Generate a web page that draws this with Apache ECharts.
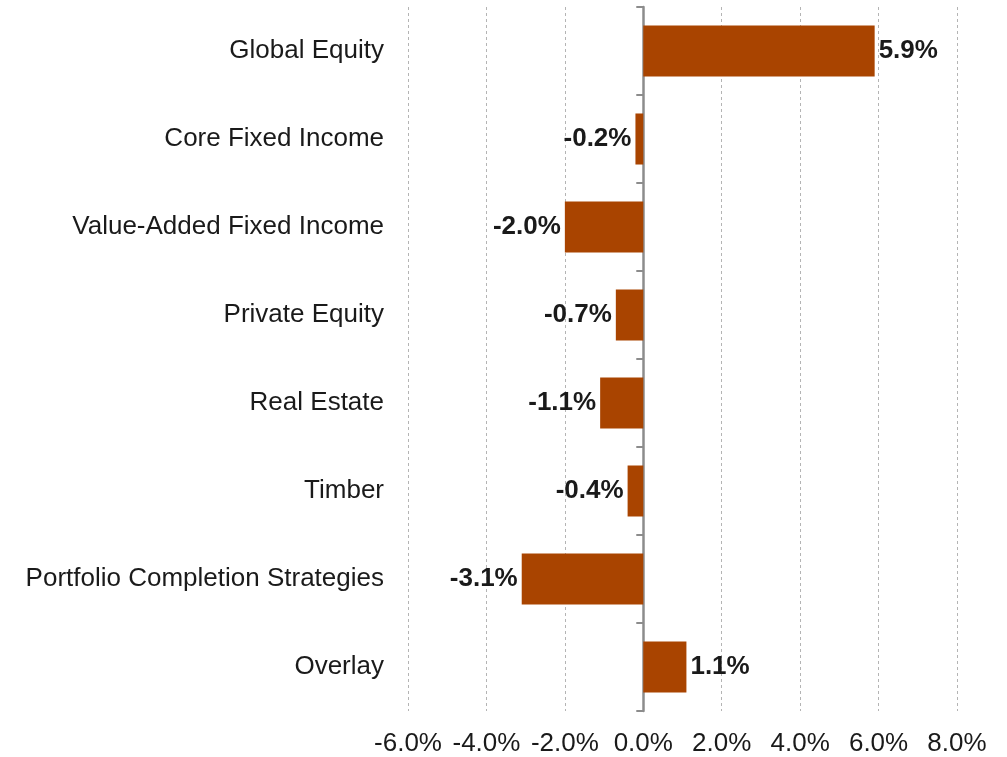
<!DOCTYPE html>
<html>
<head>
<meta charset="utf-8">
<script src="https://cdn.jsdelivr.net/npm/echarts@6/dist/echarts.min.js"></script>
<style>
  html, body { margin: 0; padding: 0; background: #fff; }
  #chart { width: 1007px; height: 757px; }
</style>
</head>
<body>
<div id="chart"></div>
<script>
var categories = ['Global Equity', 'Core Fixed Income', 'Value-Added Fixed Income', 'Private Equity',
    'Real Estate', 'Timber', 'Portfolio Completion Strategies', 'Overlay'];
var values = [5.9, -0.2, -2.0, -0.7, -1.1, -0.4, -3.1, 1.1];
var xTicks = [-6, 8, 2]; // min, max, step

var font = "'Liberation Sans', Arial, sans-serif";

var barData = [];
for (var i = 0; i < values.length; i++) {
    barData.push({
        value: values[i],
        label: { position: values[i] >= 0 ? 'right' : 'left' }
    });
}

var chart = echarts.init(document.getElementById('chart'));
chart.setOption({
    animation: false,
    grid: {
        left: 408,
        right: 50,
        top: 7,
        bottom: 45
    },
    xAxis: {
        type: 'value',
        min: xTicks[0],
        max: xTicks[1],
        interval: xTicks[2],
        axisLine: { show: false },
        axisTick: { show: false },
        axisLabel: {
            fontFamily: font,
            fontSize: 26,
            color: '#1a1a1a',
            margin: 20,
            formatter: function (v) { return v.toFixed(1) + '%'; }
        },
        splitLine: {
            show: true,
            lineStyle: { color: '#b4b4b4', type: [3, 3], width: 1 }
        }
    },
    yAxis: [
        {
            type: 'category',
            inverse: true,
            data: categories,
            axisLine: { show: false, onZero: false },
            axisTick: { show: false },
            axisLabel: {
                fontFamily: font,
                fontSize: 26,
                color: '#1a1a1a',
                margin: 24
            }
        },
        {
            // zero line with the category boundary ticks
            type: 'category',
            inverse: true,
            position: 'left',
            data: categories,
            axisLine: { show: true, onZero: true, onZeroAxisIndex: 0, lineStyle: { color: '#8c8c8c', width: 2.5 } },
            axisTick: { show: true, length: 7, lineStyle: { color: '#8c8c8c', width: 2 } },
            axisLabel: { show: false }
        }
    ],
    series: [
        {
            type: 'bar',
            yAxisIndex: 0,
            data: barData,
            barCategoryGap: '42%',
            itemStyle: { color: '#a94400' },
            label: {
                show: true,
                fontFamily: font,
                fontWeight: 'bold',
                fontSize: 26,
                color: '#1a1a1a',
                distance: 4,
                formatter: function (p) { return p.value.toFixed(1) + '%'; }
            }
        }
    ]
});

window.addEventListener('resize', function () {
    chart.resize();
});
</script>
</body>
</html>
